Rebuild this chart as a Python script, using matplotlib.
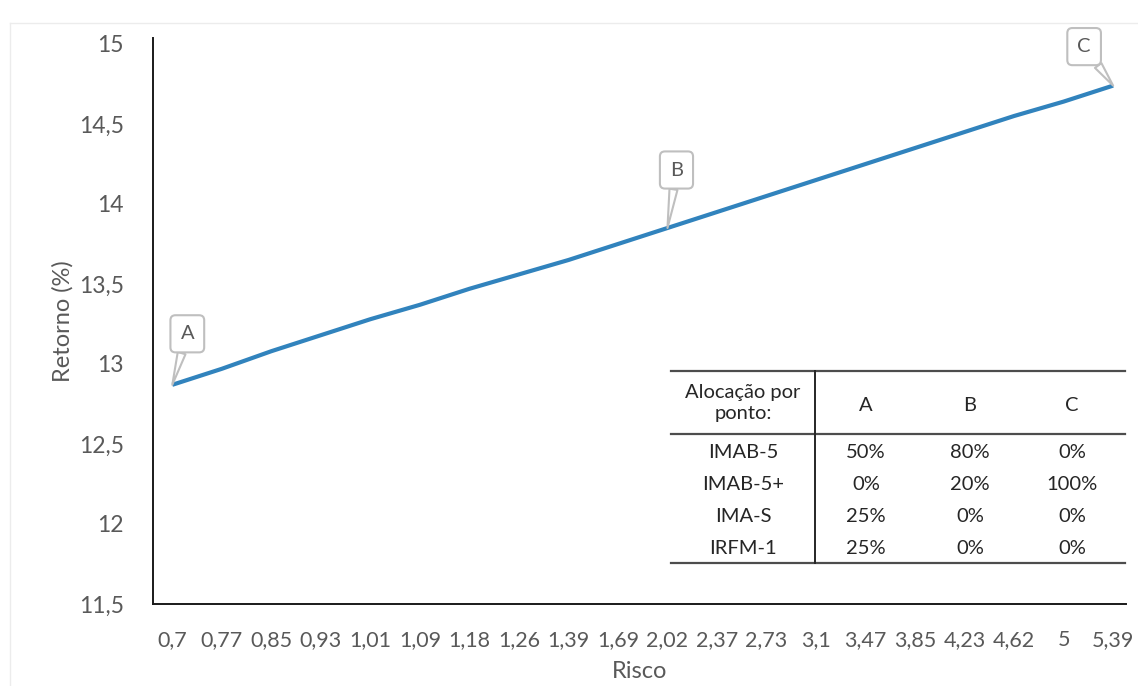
import matplotlib
matplotlib.use("Agg")
import matplotlib.pyplot as plt
from matplotlib.lines import Line2D

# ---------------- data ----------------
risco_labels = ["0,7", "0,77", "0,85", "0,93", "1,01", "1,09", "1,18", "1,26", "1,39", "1,69",
                "2,02", "2,37", "2,73", "3,1", "3,47", "3,85", "4,23", "4,62", "5", "5,39"]
retorno = [12.87, 12.97, 13.08, 13.18, 13.28, 13.37, 13.47, 13.56, 13.65, 13.75,
           13.85, 13.95, 14.05, 14.15, 14.25, 14.35, 14.45, 14.55, 14.64, 14.74]
y_ticks = [11.5, 12, 12.5, 13, 13.5, 14, 14.5, 15]
y_tick_labels = ["11,5", "12", "12,5", "13", "13,5", "14", "14,5", "15"]

callout_labels = ["A", "B", "C"]
callout_index = [0, 10, 19]

table_header = ["Alocação por\nponto:", "A", "B", "C"]
table_assets = ["IMAB-5", "IMAB-5+", "IMA-S", "IRFM-1"]
alloc_A = ["50%", "0%", "25%", "25%"]
alloc_B = ["80%", "20%", "0%", "0%"]
alloc_C = ["0%", "100%", "0%", "0%"]

# ---------------- style ----------------
plt.rcParams['font.family'] = ['Lato', 'DejaVu Sans']
W, H = 1138, 686
fig = plt.figure(figsize=(W / 100, H / 100), dpi=100)

def fx(px):
    return px / W

def fy(py):
    return 1 - py / H

ax = fig.add_axes([fx(153), fy(604), fx(1126) - fx(153), fy(37.6) - fy(604)])

grey_txt = "#595959"
line_color = "#3183bd"

x = list(range(len(retorno)))
ax.plot(x, retorno, color=line_color, lw=3.0, solid_capstyle="butt", zorder=3)

ax.set_xlim(-0.39, 19.26)
ax.set_ylim(11.5, 15.04)
ax.set_xticks(x)
ax.set_xticklabels(risco_labels)
ax.set_yticks(y_ticks)
ax.set_yticklabels(y_tick_labels)
ax.tick_params(axis="both", length=0, colors=grey_txt)
ax.tick_params(axis="x", pad=19, labelsize=15.5)
ax.tick_params(axis="y", pad=21, labelsize=16.5)

for s in ["top", "right"]:
    ax.spines[s].set_visible(False)
for s in ["left", "bottom"]:
    ax.spines[s].set_color("#1a1a1a")
    ax.spines[s].set_linewidth(1.4)

ax.set_xlabel("Risco", fontsize=17, color=grey_txt, labelpad=8)
ax.set_ylabel("Retorno (%)", fontsize=17, color=grey_txt, labelpad=4)

# callouts
offsets = [(15, 51), (9, 58), (-29, 39)]
for lab, idx, off in zip(callout_labels, callout_index, offsets):
    ax.annotate(lab, xy=(idx, retorno[idx]), xytext=off, textcoords="offset pixels",
                ha="center", va="center", fontsize=14.5, color=grey_txt,
                bbox=dict(boxstyle="round,pad=0.5,rounding_size=0.25", fc="white",
                          ec="#bfbfbf", lw=1.5),
                arrowprops=dict(arrowstyle="wedge,tail_width=0.4,shrink_factor=0.5",
                                fc="white", ec="#bfbfbf", lw=1.5,
                                shrinkA=0, shrinkB=0),
                zorder=5)

# faint chart-area border
fig.add_artist(Line2D([fx(10), fx(10)], [fy(23), 0], color="#ececec", lw=1))
fig.add_artist(Line2D([fx(10), 1], [fy(23), fy(23)], color="#ececec", lw=1))

# ---------------- table ----------------
tcol = "#262626"
tsize = 14.5
x_left, x_right, x_div = 671, 1125, 815
y_top, y_head, y_bot = 370.5, 434, 562.5
fig.add_artist(Line2D([fx(x_left), fx(x_right)], [fy(y_top), fy(y_top)], color="#4d4d4d", lw=1.6))
fig.add_artist(Line2D([fx(x_left), fx(x_right)], [fy(y_head), fy(y_head)], color="#4d4d4d", lw=1.6))
fig.add_artist(Line2D([fx(x_left), fx(x_right)], [fy(y_bot), fy(y_bot)], color="#4d4d4d", lw=1.6))
fig.add_artist(Line2D([fx(x_div), fx(x_div)], [fy(y_top), fy(y_bot)], color="#262626", lw=1.4))

col_x = [743, 866, 970, 1072]
fig.text(fx(col_x[0]), fy(403), table_header[0], ha="center", va="center",
         fontsize=tsize, color=tcol, linespacing=1.3)
for cx, h in zip(col_x[1:], table_header[1:]):
    fig.text(fx(cx), fy(405), h, ha="center", va="center", fontsize=tsize, color=tcol)

row_y = [452, 485, 517, 548]
for ry, asset, a, b, c in zip(row_y, table_assets, alloc_A, alloc_B, alloc_C):
    for cx, val in zip(col_x, [asset, a, b, c]):
        fig.text(fx(cx), fy(ry), val, ha="center", va="center", fontsize=tsize, color=tcol)

fig.savefig("out.png", dpi=100)
